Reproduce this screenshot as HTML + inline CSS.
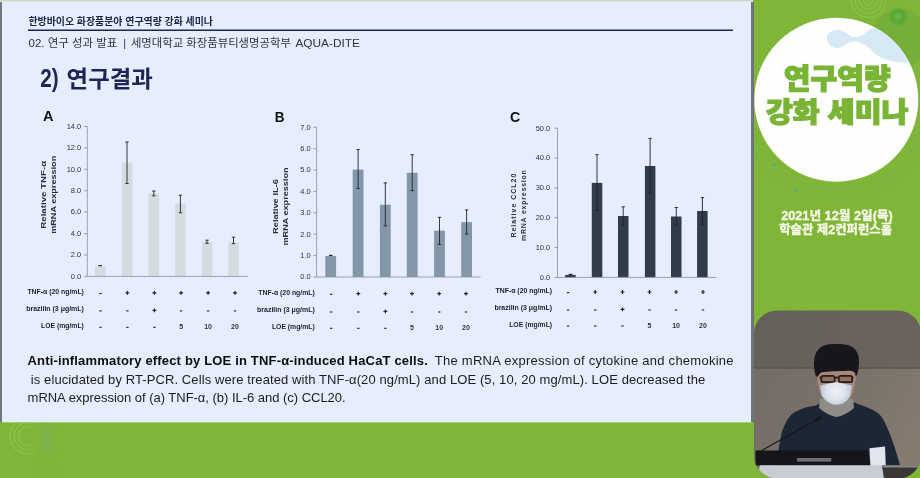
<!DOCTYPE html>
<html lang="ko">
<head>
<meta charset="utf-8">
<title>한방바이오 화장품분야 연구역량 강화 세미나</title>
<style>
html,body{margin:0;padding:0}
body{position:relative;width:920px;height:478px;overflow:hidden;background:#80b638;font-family:"Liberation Sans",sans-serif;font-size:13px;line-height:16px}
#stage{position:absolute;left:0;top:0;width:920px;height:478px;overflow:hidden;background:#80b638}
.abs{position:absolute}
.ov{position:absolute;left:0;top:0;opacity:.999}
#slide{left:2px;top:1.5px;width:749.5px;height:420.3px;background:#e6edfc;box-shadow:0 0.8px 0 #a9d57c}
#topstrip{left:0;top:0;width:753px;height:2px;background:linear-gradient(180deg,#c6d3bf 0,#d8e3d6 60%,#e2e9ee 100%)}
#lstrip{left:0;top:2px;width:2px;height:420px;background:#70777d}
#rstrip{left:751.2px;top:2px;width:2.6px;height:420px;background:#6d757a}
.cap{position:absolute;white-space:nowrap;color:#1c1c1c;font-size:13px;line-height:16px;opacity:.999}
.cap b{color:#0c0c0c}
</style>
</head>
<body>
<div id="stage">
<div id="topstrip" class="abs"></div>
<div id="lstrip" class="abs"></div>
<div id="slide" class="abs"></div>
<div id="rstrip" class="abs"></div>
<svg class="ov" width="920" height="478" viewBox="0 0 920 478">
<style>
text{font-family:"Liberation Sans",sans-serif}
.tk{font-size:7.5px;fill:#30333a}
.rl{font-size:7px;font-weight:bold;fill:#1d1f26}
.nm{font-size:7px;font-weight:bold;fill:#30333a}
.yt{font-size:7.2px;font-weight:bold;fill:#2a2d35}
.ytc{font-size:7px;fill:#2c2f37}
.ab{font-size:15px;font-weight:bold;fill:#0e0e10}
.kr{font-family:"Liberation Sans","Noto Sans CJK KR",sans-serif}
</style>
<text class="kr" x="28.4" y="24.6" font-size="10" font-weight="bold" fill="#1b2247" textLength="184.6" lengthAdjust="spacingAndGlyphs">한방바이오 화장품분야 연구역량 강화 세미나</text>
<path d="M28 30.2H733" stroke="#1f2653" stroke-width="1.4"/>
<text class="kr" x="28.5" y="46.5" font-size="11" fill="#2f333d" textLength="88.9" lengthAdjust="spacingAndGlyphs">02. 연구 성과 발표</text>
<text class="kr" x="124.6" y="46.5" font-size="11" fill="#2f333d" text-anchor="middle">|</text>
<text class="kr" x="130.9" y="46.5" font-size="11" fill="#2f333d" textLength="160" lengthAdjust="spacingAndGlyphs">세명대학교 화장품뷰티생명공학부</text>
<text class="kr" x="295.4" y="46.6" font-size="11.4" fill="#2f333d" textLength="64.6" lengthAdjust="spacingAndGlyphs">AQUA-DITE</text>
<text class="kr" x="40.3" y="86.7" font-size="25" font-weight="bold" fill="#1d2554" textLength="18.4" lengthAdjust="spacingAndGlyphs">2)</text>
<text class="kr" x="66.6" y="86.5" font-size="23" font-weight="bold" fill="#1d2554" textLength="86.3" lengthAdjust="spacingAndGlyphs">연구결과</text>
<text transform="translate(43 121.4) scale(.97 1.03)" class="ab">A</text>
<text transform="translate(274.8 121.5) scale(.9 1.03)" class="ab">B</text>
<text transform="translate(509.9 122.3) scale(.95 1.03)" class="ab">C</text>
<rect x="95" y="266.2" width="10.6" height="10.2" fill="#d4dcdf"/>
<rect x="121.8" y="162.6" width="10.6" height="113.8" fill="#d4dcdf"/>
<rect x="148.4" y="193.5" width="10.6" height="82.9" fill="#d4dcdf"/>
<rect x="175.1" y="203.6" width="10.6" height="72.8" fill="#d4dcdf"/>
<rect x="201.7" y="242" width="10.6" height="34.4" fill="#d4dcdf"/>
<rect x="228.2" y="242.4" width="10.6" height="34" fill="#d4dcdf"/>
<path d="M87.3 126.4V276.4H248" fill="none" stroke="#8e949e" stroke-width="0.85"/>
<text x="81.3" y="128.7" text-anchor="end" class="tk">14.0</text>
<text x="81.3" y="150.1" text-anchor="end" class="tk">12.0</text>
<text x="81.3" y="171.6" text-anchor="end" class="tk">10.0</text>
<text x="81.3" y="193" text-anchor="end" class="tk">8.0</text>
<text x="81.3" y="214.4" text-anchor="end" class="tk">6.0</text>
<text x="81.3" y="235.9" text-anchor="end" class="tk">4.0</text>
<text x="81.3" y="257.3" text-anchor="end" class="tk">2.0</text>
<text x="81.3" y="278.7" text-anchor="end" class="tk">0.0</text>
<path d="M87.3 126.4h-3.1M87.3 147.8h-3.1M87.3 169.3h-3.1M87.3 190.7h-3.1M87.3 212.1h-3.1M87.3 233.6h-3.1M87.3 255h-3.1M87.3 276.4h-3.1" stroke="#8b9097" stroke-width="0.9" fill="none"/>
<path d="M100.3 265.6V265.6M98.6 265.6h3.4M98.6 265.6h3.4M127 142V183.5M125.3 142h3.4M125.3 183.5h3.4M153.8 191V195.8M152.1 191h3.4M152.1 195.8h3.4M180.4 195.2V212.8M178.7 195.2h3.4M178.7 212.8h3.4M207 240.2V243.3M205.3 240.2h3.4M205.3 243.3h3.4M233.5 237.2V243.7M231.8 237.2h3.4M231.8 243.7h3.4" stroke="#20242c" stroke-width="0.9" fill="none"/>
<text x="83.9" y="294.4" text-anchor="end" class="rl" textLength="56.5" lengthAdjust="spacingAndGlyphs">TNF-α (20 ng/mL)</text>
<text x="83.9" y="310.7" text-anchor="end" class="rl" textLength="57.7" lengthAdjust="spacingAndGlyphs">brazilin (3 μg/mL)</text>
<text x="83.9" y="328.3" text-anchor="end" class="rl" textLength="42.9" lengthAdjust="spacingAndGlyphs">LOE (mg/mL)</text>
<path d="M99.3 293.5h2.4" stroke="#222" stroke-width="1.1"/>
<path d="M125.5 292.9h3.8M127.4 291v3.8" stroke="#222" stroke-width="1.2"/>
<path d="M152.5 292.9h3.8M154.4 291v3.8" stroke="#222" stroke-width="1.2"/>
<path d="M179.2 292.9h3.8M181.1 291v3.8" stroke="#222" stroke-width="1.2"/>
<path d="M206.2 292.9h3.8M208.1 291v3.8" stroke="#222" stroke-width="1.2"/>
<path d="M233.1 292.9h3.8M235 291v3.8" stroke="#222" stroke-width="1.2"/>
<path d="M99.3 310.9h2.4" stroke="#222" stroke-width="1.1"/>
<path d="M126.2 310.9h2.4" stroke="#222" stroke-width="1.1"/>
<path d="M152.5 310.3h3.8M154.4 308.4v3.8" stroke="#222" stroke-width="1.2"/>
<path d="M179.9 310.9h2.4" stroke="#222" stroke-width="1.1"/>
<path d="M206.9 310.9h2.4" stroke="#222" stroke-width="1.1"/>
<path d="M233.8 310.9h2.4" stroke="#222" stroke-width="1.1"/>
<path d="M99.3 327.3h2.4" stroke="#222" stroke-width="1.1"/>
<path d="M126.2 327.3h2.4" stroke="#222" stroke-width="1.1"/>
<path d="M153.2 327.3h2.4" stroke="#222" stroke-width="1.1"/>
<text x="181.1" y="329.1" text-anchor="middle" class="nm">5</text>
<text x="208.1" y="329.1" text-anchor="middle" class="nm">10</text>
<text x="235" y="329.1" text-anchor="middle" class="nm">20</text>
<text transform="translate(45.6 194.8) rotate(-90)" text-anchor="middle" class="yt" textLength="67.8" lengthAdjust="spacingAndGlyphs">Relative  TNF-α</text>
<text transform="translate(55.5 194.8) rotate(-90)" text-anchor="middle" class="yt" textLength="78" lengthAdjust="spacingAndGlyphs">mRNA expression</text>
<rect x="325.3" y="256" width="10.8" height="21" fill="#8397a9"/>
<rect x="352.7" y="169.6" width="10.8" height="107.4" fill="#8397a9"/>
<rect x="379.9" y="204.7" width="10.8" height="72.3" fill="#8397a9"/>
<rect x="406.8" y="172.8" width="10.8" height="104.2" fill="#8397a9"/>
<rect x="434.1" y="230.6" width="10.8" height="46.4" fill="#8397a9"/>
<rect x="461.2" y="222.1" width="10.8" height="54.9" fill="#8397a9"/>
<path d="M316.6 127.2V277H480.6" fill="none" stroke="#8e949e" stroke-width="0.85"/>
<text x="310.6" y="129.5" text-anchor="end" class="tk">7.0</text>
<text x="310.6" y="150.9" text-anchor="end" class="tk">6.0</text>
<text x="310.6" y="172.3" text-anchor="end" class="tk">5.0</text>
<text x="310.6" y="193.7" text-anchor="end" class="tk">4.0</text>
<text x="310.6" y="215.1" text-anchor="end" class="tk">3.0</text>
<text x="310.6" y="236.5" text-anchor="end" class="tk">2.0</text>
<text x="310.6" y="257.9" text-anchor="end" class="tk">1.0</text>
<text x="310.6" y="279.3" text-anchor="end" class="tk">0.0</text>
<path d="M316.6 127.2h-3.1M316.6 148.6h-3.1M316.6 170h-3.1M316.6 191.4h-3.1M316.6 212.8h-3.1M316.6 234.2h-3.1M316.6 255.6h-3.1M316.6 277h-3.1" stroke="#8b9097" stroke-width="0.9" fill="none"/>
<path d="M330.7 255.4V255.4M329 255.4h3.4M329 255.4h3.4M358.1 149.5V188.4M356.4 149.5h3.4M356.4 188.4h3.4M385.3 182.9V225.8M383.6 182.9h3.4M383.6 225.8h3.4M412.2 154.7V190.7M410.5 154.7h3.4M410.5 190.7h3.4M439.5 217.3V244.4M437.8 217.3h3.4M437.8 244.4h3.4M466.6 209.9V234.2M464.9 209.9h3.4M464.9 234.2h3.4" stroke="#20242c" stroke-width="0.9" fill="none"/>
<text x="314.8" y="295" text-anchor="end" class="rl" textLength="56.5" lengthAdjust="spacingAndGlyphs">TNF-α (20 ng/mL)</text>
<text x="314.8" y="311.7" text-anchor="end" class="rl" textLength="57.7" lengthAdjust="spacingAndGlyphs">brazilin (3 μg/mL)</text>
<text x="314.8" y="329" text-anchor="end" class="rl" textLength="42.9" lengthAdjust="spacingAndGlyphs">LOE (mg/mL)</text>
<path d="M330 294.3h2.4" stroke="#222" stroke-width="1.1"/>
<path d="M356.4 293.7h3.8M358.3 291.8v3.8" stroke="#222" stroke-width="1.2"/>
<path d="M383.5 293.7h3.8M385.4 291.8v3.8" stroke="#222" stroke-width="1.2"/>
<path d="M410.1 293.7h3.8M412 291.8v3.8" stroke="#222" stroke-width="1.2"/>
<path d="M437.3 293.7h3.8M439.2 291.8v3.8" stroke="#222" stroke-width="1.2"/>
<path d="M464.1 293.7h3.8M466 291.8v3.8" stroke="#222" stroke-width="1.2"/>
<path d="M330 312h2.4" stroke="#222" stroke-width="1.1"/>
<path d="M357.1 312h2.4" stroke="#222" stroke-width="1.1"/>
<path d="M383.5 311.4h3.8M385.4 309.5v3.8" stroke="#222" stroke-width="1.2"/>
<path d="M410.8 312h2.4" stroke="#222" stroke-width="1.1"/>
<path d="M438 312h2.4" stroke="#222" stroke-width="1.1"/>
<path d="M464.8 312h2.4" stroke="#222" stroke-width="1.1"/>
<path d="M330 328.3h2.4" stroke="#222" stroke-width="1.1"/>
<path d="M357.1 328.3h2.4" stroke="#222" stroke-width="1.1"/>
<path d="M384.2 328.3h2.4" stroke="#222" stroke-width="1.1"/>
<text x="412" y="330.1" text-anchor="middle" class="nm">5</text>
<text x="439.2" y="330.1" text-anchor="middle" class="nm">10</text>
<text x="466" y="330.1" text-anchor="middle" class="nm">20</text>
<text transform="translate(277.8 206.5) rotate(-90)" text-anchor="middle" class="yt" textLength="55" lengthAdjust="spacingAndGlyphs">Relative  IL-6</text>
<text transform="translate(287.6 206.5) rotate(-90)" text-anchor="middle" class="yt" textLength="78" lengthAdjust="spacingAndGlyphs">mRNA expression</text>
<rect x="565.2" y="274.9" width="10.5" height="2.5" fill="#313b4a"/>
<rect x="591.8" y="182.9" width="10.5" height="94.5" fill="#313b4a"/>
<rect x="618" y="216" width="10.5" height="61.4" fill="#313b4a"/>
<rect x="644.9" y="166" width="10.5" height="111.4" fill="#313b4a"/>
<rect x="671" y="216.5" width="10.5" height="60.9" fill="#313b4a"/>
<rect x="697.1" y="211" width="10.5" height="66.4" fill="#313b4a"/>
<path d="M557.5 128.2V277.4H716.3" fill="none" stroke="#8e949e" stroke-width="0.85"/>
<text x="550.3" y="130.5" text-anchor="end" class="tk">50.0</text>
<text x="550.3" y="160.3" text-anchor="end" class="tk">40.0</text>
<text x="550.3" y="190.2" text-anchor="end" class="tk">30.0</text>
<text x="550.3" y="220" text-anchor="end" class="tk">20.0</text>
<text x="550.3" y="249.9" text-anchor="end" class="tk">10.0</text>
<text x="550.3" y="279.7" text-anchor="end" class="tk">0.0</text>
<path d="M557.5 128.2h-3.1M557.5 158h-3.1M557.5 187.9h-3.1M557.5 217.7h-3.1M557.5 247.6h-3.1M557.5 277.4h-3.1" stroke="#8b9097" stroke-width="0.9" fill="none"/>
<path d="M570.5 274.4V274.4M568.8 274.4h3.4M568.8 274.4h3.4M597 154.7V210.5M595.3 154.7h3.4M595.3 210.5h3.4M623.2 206.8V225.2M621.5 206.8h3.4M621.5 225.2h3.4M650.1 138.4V193.4M648.4 138.4h3.4M648.4 193.4h3.4M676.3 207.5V225.5M674.6 207.5h3.4M674.6 225.5h3.4M702.4 197.6V224.2M700.7 197.6h3.4M700.7 224.2h3.4" stroke="#20242c" stroke-width="0.9" fill="none"/>
<text x="552.1" y="293.4" text-anchor="end" class="rl" textLength="56.5" lengthAdjust="spacingAndGlyphs">TNF-α (20 ng/mL)</text>
<text x="552.1" y="309.7" text-anchor="end" class="rl" textLength="57.7" lengthAdjust="spacingAndGlyphs">brazilin (3 μg/mL)</text>
<text x="552.1" y="327" text-anchor="end" class="rl" textLength="42.9" lengthAdjust="spacingAndGlyphs">LOE (mg/mL)</text>
<path d="M566.9 292.6h2.4" stroke="#222" stroke-width="1.1"/>
<path d="M593.3 292h3.8M595.2 290.1v3.8" stroke="#222" stroke-width="1.2"/>
<path d="M620.6 292h3.8M622.5 290.1v3.8" stroke="#222" stroke-width="1.2"/>
<path d="M647.6 292h3.8M649.5 290.1v3.8" stroke="#222" stroke-width="1.2"/>
<path d="M674.2 292h3.8M676.1 290.1v3.8" stroke="#222" stroke-width="1.2"/>
<path d="M701.1 292h3.8M703 290.1v3.8" stroke="#222" stroke-width="1.2"/>
<path d="M566.9 310h2.4" stroke="#222" stroke-width="1.1"/>
<path d="M594 310h2.4" stroke="#222" stroke-width="1.1"/>
<path d="M620.6 309.4h3.8M622.5 307.5v3.8" stroke="#222" stroke-width="1.2"/>
<path d="M648.3 310h2.4" stroke="#222" stroke-width="1.1"/>
<path d="M674.9 310h2.4" stroke="#222" stroke-width="1.1"/>
<path d="M701.8 310h2.4" stroke="#222" stroke-width="1.1"/>
<path d="M566.9 326h2.4" stroke="#222" stroke-width="1.1"/>
<path d="M594 326h2.4" stroke="#222" stroke-width="1.1"/>
<path d="M621.3 326h2.4" stroke="#222" stroke-width="1.1"/>
<text x="649.5" y="327.8" text-anchor="middle" class="nm">5</text>
<text x="676.1" y="327.8" text-anchor="middle" class="nm">10</text>
<text x="703" y="327.8" text-anchor="middle" class="nm">20</text>
<text transform="translate(516 205.6) rotate(-90)" text-anchor="middle" class="yt ytc" textLength="64" lengthAdjust="spacing">Relative  CCL20</text>
<text transform="translate(525.9 205.6) rotate(-90)" text-anchor="middle" class="yt ytc" textLength="71" lengthAdjust="spacing">mRNA expression</text>
</svg>
<div class="cap" id="c1" style="left:27.5px;top:352.7px;letter-spacing:0.17px"><b>Anti-inflammatory effect by LOE in TNF-α-induced HaCaT cells.</b></div>
<div class="cap" id="c1r" style="left:434.8px;top:352.7px;letter-spacing:0.253px">The mRNA expression of cytokine and chemokine</div>
<div class="cap" id="c2" style="left:30.8px;top:371.7px;letter-spacing:0.098px">is elucidated by RT-PCR. Cells were treated with TNF-α(20 ng/mL) and LOE (5, 10, 20 mg/mL). LOE decreased the</div>
<div class="cap" id="c3" style="left:27.6px;top:389.7px;letter-spacing:-0.026px">mRNA expression of (a) TNF-α, (b) IL-6 and (c) CCL20.</div>
<svg class="ov" width="920" height="478" viewBox="0 0 920 478">
<defs>
<clipPath id="camclip"><rect x="754" y="310.6" width="167" height="168" rx="23" ry="23"/></clipPath>
<clipPath id="circ"><circle cx="836.3" cy="99.7" r="82"/></clipPath>
<filter id="b1" x="-20%" y="-20%" width="140%" height="140%"><feGaussianBlur stdDeviation="0.5"/></filter>
<filter id="b2" x="-20%" y="-20%" width="140%" height="140%"><feGaussianBlur stdDeviation="1.2"/></filter>
<radialGradient id="ring" cx="0.5" cy="0.5" r="0.5"><stop offset="0" stop-color="#8ec653"/><stop offset="0.3" stop-color="#86c04b"/><stop offset="0.5" stop-color="#58a83a"/><stop offset="0.75" stop-color="#5fac3a"/><stop offset="1" stop-color="#6db03a" stop-opacity="0"/></radialGradient>
<linearGradient id="wallg" gradientUnits="userSpaceOnUse" x1="760" y1="370" x2="915" y2="455"><stop offset="0" stop-color="#736d65"/><stop offset="0.5" stop-color="#79726a"/><stop offset="1" stop-color="#867b6f"/></linearGradient>
<linearGradient id="wallu" gradientUnits="userSpaceOnUse" x1="754" y1="0" x2="920" y2="0"><stop offset="0" stop-color="#64605a"/><stop offset="1" stop-color="#6b645c"/></linearGradient>
<clipPath id="greenbl"><rect x="0" y="422.5" width="200" height="56"/></clipPath>
<linearGradient id="fade" gradientUnits="userSpaceOnUse" x1="10" y1="0" x2="40" y2="0"><stop offset="0" stop-color="#98c962"/><stop offset="0.6" stop-color="#98c962" stop-opacity="0.7"/><stop offset="1" stop-color="#98c962" stop-opacity="0"/></linearGradient>
<filter id="b3" x="-50%" y="-50%" width="200%" height="200%"><feGaussianBlur stdDeviation="2.5"/></filter>
<clipPath id="rp"><rect x="754" y="0" width="166" height="300"/></clipPath>
<radialGradient id="maskg" gradientUnits="userSpaceOnUse" cx="836" cy="391" r="17"><stop offset="0" stop-color="#eef1f6"/><stop offset="0.55" stop-color="#dde3ec"/><stop offset="1" stop-color="#b7c2d4"/></radialGradient>
<filter id="b4" x="-30%" y="-30%" width="160%" height="160%"><feGaussianBlur stdDeviation="0.9"/></filter>
</defs>
<circle cx="900" cy="38" r="29" fill="#72ae3a" opacity="0.8"/>
<g fill="none" stroke="#98c85f" stroke-width="1" opacity="0.7"><circle cx="868.5" cy="0" r="5"/><circle cx="868.5" cy="0" r="9.2"/><circle cx="868.5" cy="0" r="13.4"/><circle cx="868.5" cy="0" r="17.5"/></g>
<g filter="url(#b4)"><circle cx="898" cy="16.7" r="8.3" fill="#56a73a"/><circle cx="898" cy="16.7" r="3.2" fill="#72b543"/></g>
<circle cx="836.3" cy="99.7" r="82" fill="#fefffd"/>
<g clip-path="url(#circ)"><path d="M827 39C826 33 832 30 838 30C845 30 848 36 853 37C858 38 862 36 866 32C870 29 876 26 884 25L912 25L914 63L896 62C886 60 880 58 874 53C868 46 862 42 855 41C850 41 846 45 842 47C836 50 828 47 827 39Z" fill="#d7e9f5"/></g>
<g clip-path="url(#rp)" fill="none" stroke="#63ae74" stroke-width="0.8" opacity="0.6"><path d="M748.0 118.5A90.3 90.3 0 0 0 924.6 118.5"/><path d="M743.6 119.4A94.8 94.8 0 0 0 929.0 119.4" stroke-dasharray="1.2 1.8"/><path d="M739.3 120.3A99.2 99.2 0 0 0 933.3 120.3"/></g>
<circle cx="774" cy="165" r="1.6" fill="#4fa98c"/><circle cx="795.3" cy="190" r="1.5" fill="#4fa98c"/>
<text x="783.8" y="88.5" style="font-family:'Liberation Sans','Noto Sans CJK KR',sans-serif" font-size="28" font-weight="900" fill="#79b435" stroke="#79b435" stroke-width="1.25" stroke-linejoin="miter" textLength="106.8" lengthAdjust="spacingAndGlyphs">연구역량</text>
<text x="766" y="121.5" style="font-family:'Liberation Sans','Noto Sans CJK KR',sans-serif" font-size="27" font-weight="900" fill="#79b435" stroke="#79b435" stroke-width="1.25" stroke-linejoin="miter" textLength="142.4" lengthAdjust="spacingAndGlyphs">강화 세미나</text>
<text x="781.2" y="219.5" style="font-family:'Liberation Sans','Noto Sans CJK KR',sans-serif" font-size="12" font-weight="bold" fill="#f6f8e8" stroke="#f6f8e8" stroke-width="0.35" stroke-linejoin="round" textLength="111.6" lengthAdjust="spacingAndGlyphs">2021년 12월 2일(목)</text>
<text x="779.2" y="234.3" style="font-family:'Liberation Sans','Noto Sans CJK KR',sans-serif" font-size="12" font-weight="bold" fill="#f6f8e8" stroke="#f6f8e8" stroke-width="0.35" stroke-linejoin="round" textLength="113" lengthAdjust="spacingAndGlyphs">학술관 제2컨퍼런스홀</text>
<g clip-path="url(#camclip)">
<rect x="754" y="310" width="167" height="168" fill="url(#wallu)"/>
<rect x="754" y="368.6" width="167" height="110" fill="url(#wallg)"/>
<rect x="754" y="367.4" width="167" height="1.3" fill="#5b544d"/>
<g filter="url(#b1)">
<path d="M777 468C777.5 458 778 450 779.5 444C781 436 782 430 784.5 425.6C787 420 789 417 792 414C796 411 800 409.5 804 408C808 407 812 406 816 405.5L821 402.5L853 402C857 403.5 860 405 864.4 406.2C869 408 874 410 877.8 413C882 416.5 884.5 421 886.2 425.5C889 431 891 437 892.9 442.3C895.5 450 898 458 899.6 464L900 468Z" fill="#1f2535"/>
<path d="M820 399L853 399L854 408C848 413 842 416 836.5 417C831 416 825 413 819 408Z" fill="#8e8c88"/>
<path d="M816.5 374C816.5 366 856.5 366 856.5 374L855 384C854 392 851 398 848 400L825 400C822 398 819 392 818 384Z" fill="#a68878"/>
<path d="M815 373C812 360 815 349 824 345.6C830 343.6 845 343.6 850 345.8C859 349.5 860.6 360 857.8 372C857 375 856.5 376 855.5 376C855.5 372 853 370.5 848 370.8C838 371.5 828 371 821 372.5C819 374 818.5 376 817.5 377C816 376.5 815.3 375 815 373Z" fill="#16161a"/>
<path d="M819.5 377.6H853.5" stroke="#2a1b1b" stroke-width="1.6"/><rect x="821.3" y="375.8" width="13.4" height="6.4" rx="2" fill="#8c6f62" stroke="#2a1b1b" stroke-width="1.7"/><rect x="838.8" y="375.8" width="13.4" height="6.4" rx="2" fill="#8c6f62" stroke="#2a1b1b" stroke-width="1.7"/>
<path d="M820 385.4C826 384 832 382.4 836 382.2C840 382.4 846 384 852 385.4L850.5 395C848 401 843 404.7 836.5 404.7C830 404.7 825 401 821.5 395Z" fill="url(#maskg)"/>
</g>
<path d="M761 451L817 419.5" stroke="#15161a" stroke-width="1.1" fill="none"/><path d="M815 420.6L820.5 417.6" stroke="#15161a" stroke-width="2.4" stroke-linecap="round"/>
<path d="M869.4 448.2L885 446.4L885.8 466L870.4 466Z" fill="#e1e5ec" filter="url(#b1)"/>
<path d="M755.5 450.6L868 450.6L870 465.4L755.5 465.4Z" fill="#14161b"/>
<rect x="797" y="458" width="34.3" height="3.6" fill="#6e7076"/>
<path d="M760 465.2H882L884 478H757Z" fill="#c9ccd2"/>
<path d="M882 465.2H921V478H884Z" fill="#3a3735"/><path d="M882 465.2H921V467.6H882.4Z" fill="#8a8a88"/>
</g>
<g clip-path="url(#greenbl)" fill="none" stroke="url(#fade)" stroke-width="1"><circle cx="28" cy="436" r="9.5"/><circle cx="28" cy="436" r="13.8"/><circle cx="28" cy="436" r="18"/></g>
<rect x="41" y="426" width="11" height="28" fill="#74ac62" opacity="0.4" filter="url(#b3)"/>
<g fill="none" stroke="#76ad3a" stroke-width="0.9" opacity="0.8"><circle cx="50" cy="479" r="6"/><circle cx="50" cy="479" r="9.5"/><circle cx="50" cy="479" r="13"/></g>
</svg>
</div>
</body>
</html>
